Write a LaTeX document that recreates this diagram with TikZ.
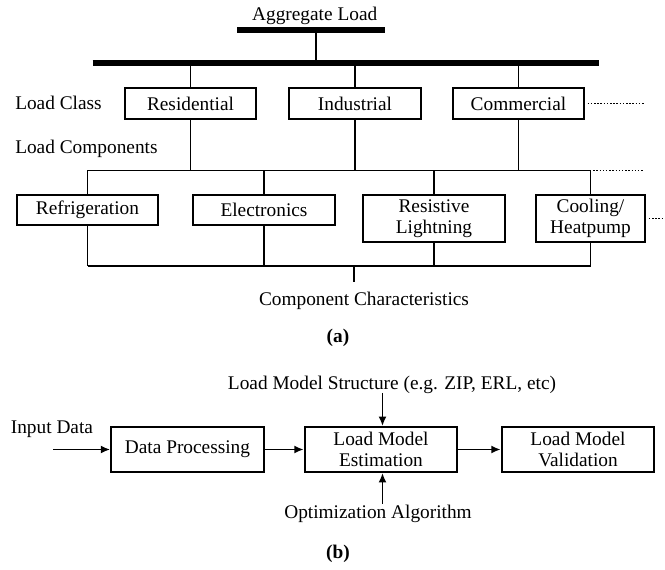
\documentclass[tikz,border=0pt]{standalone}
\usepackage{fontspec}
\setmainfont{Liberation Serif}
\usetikzlibrary{arrows.meta}
\begin{document}
\begin{tikzpicture}[x=0.75pt,y=-0.75pt,
  txt/.style={font=\fontsize{14.5}{15.5}\selectfont,inner sep=0pt},
  box/.style={txt,draw,line width=1.5pt,align=center,minimum height=23pt},
  tall/.style={box,minimum height=35pt},
  flow/.style={box,minimum height=33.75pt,minimum width=114.5pt},
  wire/.style={line width=1.3pt},
  bar/.style={line width=4.5pt},
  dots/.style={line width=1.1pt,dash pattern=on 1.1pt off 1.3pt},
  arr/.style={line width=1.4pt,-{Latex[length=7pt,width=6pt]}}]
\path[use as bounding box] (0,0) rectangle (665,570);

% ---------- (a) ----------
\node[txt,anchor=base] (agg) at (314.7,21) {Aggregate Load};
\coordinate (tbL) at (237,30);
\coordinate (tbR) at (385,30);
\coordinate (tbT) at (316,30);
\coordinate (mbL) at (92.5,63);
\coordinate (mbR) at (599,63);
\coordinate (mbT) at (316,63);
\draw[bar] (tbL) -- (tbR);
\draw[wire] (tbT) -- (mbT);
\draw[bar] (mbL) -- (mbR);

\node[txt,anchor=base west] (lclass) at (15,109.3) {Load Class};
\node[txt,anchor=base west] (lcomp) at (15,154) {Load Components};

\node[box,minimum width=98.25pt] (res) at (190.5,103.5) {Residential};
\node[box,minimum width=99pt] (ind) at (355,103.5) {Industrial};
\node[box,minimum width=98.25pt] (com) at (518.5,103.5) {Commercial};

\foreach \n in {res,ind,com}{
  \draw[wire] (\n.north) -- (\n.north |- mbL);
}
\coordinate (comdot) at (644,103.5);
\draw[dots] ([xshift=2pt]com.east) -- (comdot);

% component bus
\coordinate (busL) at (88,170.5);
\coordinate (busR) at (590.5,170.5);
\coordinate (busdot) at (644,170.5);
\draw[wire] (busL) -- (busR);
\draw[dots] ([xshift=2pt]busR) -- (busdot);
\foreach \n in {res,ind,com}{
  \draw[wire] (\n.south) -- (\n.south |- busL);
}

\node[box,minimum width=105.75pt,minimum height=22.5pt] (ref) at (87.5,210) {Refrigeration};
\node[box,minimum width=106pt,minimum height=22.5pt] (ele) at (264,210) {Electronics};
\node[tall,minimum width=106.5pt] (rl) at (434,218.5) {Resistive\\Lightning};
\node[tall,minimum width=82pt] (cool) at (590.5,218.5) {Cooling/\\Heatpump};
\coordinate (cooldot) at (665,218.5);
\draw[dots] ([xshift=2pt]cool.east) -- (cooldot);

\coordinate (bbL) at (88,266);
\coordinate (bbR) at (590.5,266);
\coordinate (bbT) at (354,266);
\coordinate (ccT) at (354,282);
\foreach \n in {ref,ele,rl,cool}{
  \draw[wire] (\n.north) -- (\n.north |- busL);
  \draw[wire] (\n.south) -- (\n.south |- bbL);
}
\draw[wire] (bbL) -- (bbR);
\draw[wire] (bbT) -- (ccT);
\node[txt,anchor=base] (cc) at (364,305.7) {Component Characteristics};
\node[txt,anchor=base,font=\fontsize{14.5}{15.5}\selectfont\bfseries] (capa) at (338,342.7) {(a)};

% ---------- (b) ----------
\node[txt,anchor=base] (lms) at (392,389.3) {Load Model Structure (e.g. ZIP, ERL, etc)};
\node[txt,anchor=base west] (inp) at (10.6,433.3) {Input Data};
\node[flow] (dp) at (187.5,449.5) {Data Processing};
\node[flow] (est) at (381,449.5) {Load Model\\Estimation};
\node[flow] (val) at (578,449.5) {Load Model\\Validation};
\node[txt,anchor=base] (opt) at (378,518.3) {Optimization Algorithm};
\coordinate (inS) at (53,449.5);
\coordinate (lmsS) at (382.5,393);
\coordinate (optN) at (382.5,504);
\draw[arr] (inS) -- (dp.west);
\draw[arr] (dp.east) -- (est.west);
\draw[arr] (est.east) -- (val.west);
\draw[arr] (lmsS) -- (lmsS |- est.north);
\draw[arr] (optN) -- (optN |- est.south);
\node[txt,anchor=base,font=\fontsize{14.5}{15.5}\selectfont\bfseries] (capb) at (338,559) {(b)};
\end{tikzpicture}
\end{document}
